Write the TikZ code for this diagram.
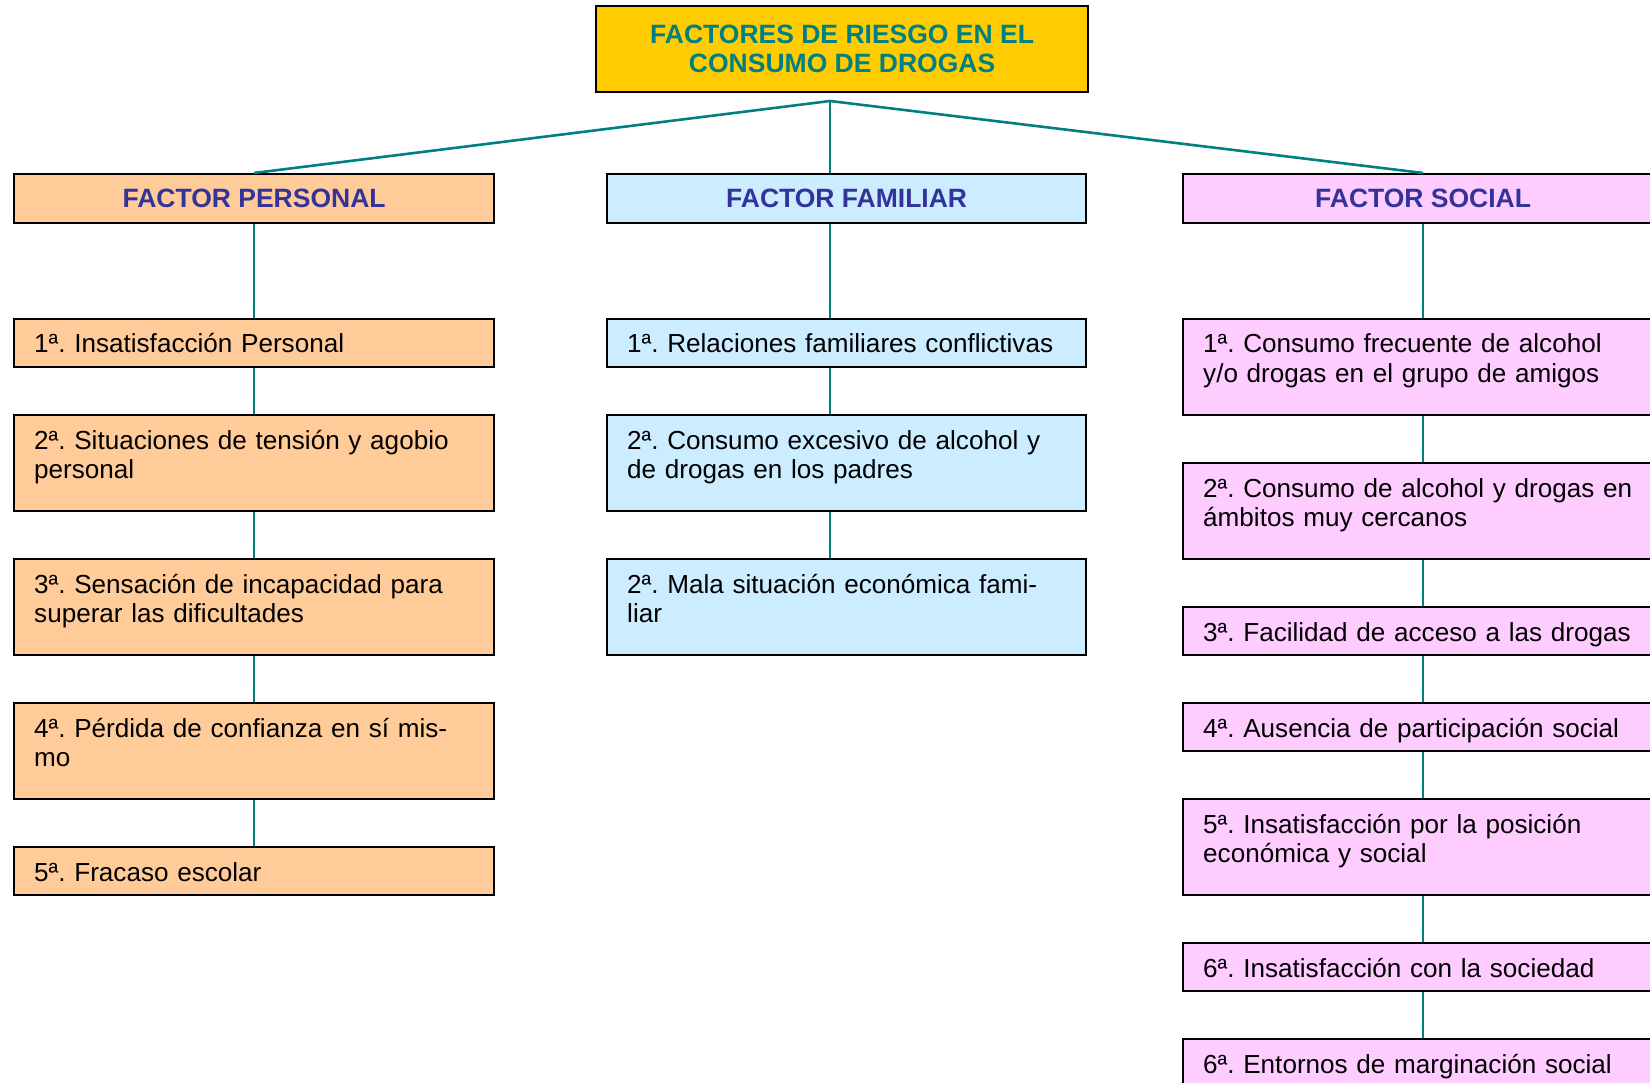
\documentclass[tikz,border=0pt]{standalone}
\usepackage{fontspec}
\setmainfont{Liberation Sans}
\frenchspacing
\definecolor{gold}{HTML}{FFCC00}
\definecolor{tealc}{HTML}{008080}
\definecolor{navyc}{HTML}{333399}
\definecolor{orangec}{HTML}{FFCC99}
\definecolor{bluec}{HTML}{CCECFF}
\definecolor{pinkc}{HTML}{FFCCFF}
\begin{document}
\begin{tikzpicture}[x=1pt,y=-1pt,
  box/.style={draw=black,line width=2.2pt,anchor=north west,inner sep=0pt,minimum width=480pt},
  one/.style={box,minimum height=48pt},
  two/.style={box,minimum height=96pt},
  head/.style={box,minimum height=49pt,font=\fontsize{26.5}{29.3}\selectfont\bfseries,text=navyc},
  txt/.style={anchor=base west,inner sep=0pt,text width=460pt,align=left,font=\fontsize{26.1}{29.3}\selectfont,xshift=21pt,yshift=-35pt},
  link/.style={draw=tealc,line width=2.6pt}]
\useasboundingbox (0,0) rectangle (1650,1083);
\clip (0,0) rectangle (1650,1083);

% title
\node[box,fill=gold,minimum width=492pt,minimum height=86pt,align=center,
  font=\fontsize{26.5}{29.3}\selectfont\bfseries,text=tealc] (title) at (595,5)
  {FACTORES DE RIESGO EN EL\\CONSUMO DE DROGAS};
\coordinate (apex) at (830,101);

% headers
\node[head,fill=orangec] (P) at (13,173) {FACTOR PERSONAL};
\node[head,fill=bluec,minimum width=479pt] (F) at (606,173) {FACTOR FAMILIAR};
\node[head,fill=pinkc] (S) at (1182,173) {FACTOR SOCIAL};

% personal
\node[one,fill=orangec] (p1) at (13,318) {};
\node[two,fill=orangec] (p2) at (13,414) {};
\node[two,fill=orangec] (p3) at (13,558) {};
\node[two,fill=orangec] (p4) at (13,702) {};
\node[one,fill=orangec] (p5) at (13,846) {};
\node[txt] (p1t) at (p1.north west) {1ª. Insatisfacción Personal};
\node[txt] (p2t) at (p2.north west) {2ª. Situaciones de tensión y agobio\\personal};
\node[txt] (p3t) at (p3.north west) {3ª. Sensación de incapacidad para\\superar las dificultades};
\node[txt] (p4t) at (p4.north west) {4ª. Pérdida de confianza en sí mis-\\mo};
\node[txt] (p5t) at (p5.north west) {5ª. Fracaso escolar};

% familiar
\node[one,fill=bluec,minimum width=479pt] (f1) at (606,318) {};
\node[two,fill=bluec,minimum width=479pt] (f2) at (606,414) {};
\node[two,fill=bluec,minimum width=479pt] (f3) at (606,558) {};
\node[txt] (f1t) at (f1.north west) {1ª. Relaciones familiares conflictivas};
\node[txt] (f2t) at (f2.north west) {2ª. Consumo excesivo de alcohol y\\de drogas en los padres};
\node[txt] (f3t) at (f3.north west) {2ª. Mala situación económica fami-\\liar};

% social
\node[two,fill=pinkc] (s1) at (1182,318) {};
\node[two,fill=pinkc] (s2) at (1182,462) {};
\node[one,fill=pinkc] (s3) at (1182,606) {};
\node[one,fill=pinkc] (s4) at (1182,702) {};
\node[two,fill=pinkc] (s5) at (1182,798) {};
\node[one,fill=pinkc] (s6) at (1182,942) {};
\node[two,fill=pinkc] (s7) at (1182,1038) {};
\node[txt] (s1t) at (s1.north west) {1ª. Consumo frecuente de alcohol\\y/o drogas en el grupo de amigos};
\node[txt] (s2t) at (s2.north west) {2ª. Consumo de alcohol y drogas en\\ámbitos muy cercanos};
\node[txt] (s3t) at (s3.north west) {3ª. Facilidad de acceso a las drogas};
\node[txt] (s4t) at (s4.north west) {4ª. Ausencia de participación social};
\node[txt] (s5t) at (s5.north west) {5ª. Insatisfacción por la posición\\económica y social};
\node[txt] (s6t) at (s6.north west) {6ª. Insatisfacción con la sociedad};
\node[txt] (s7t) at (s7.north west) {6ª. Entornos de marginación social};

% connectors
\draw[link] (P.north) -- (apex) -- (S.north);
\draw[link] (apex) -- (apex |- F.north);
\draw[link] (P.south) -- (p1.north);
\draw[link] (p1.south) -- (p2.north);
\draw[link] (p2.south) -- (p3.north);
\draw[link] (p3.south) -- (p4.north);
\draw[link] (p4.south) -- (p5.north);
\draw[link] (apex |- F.south) -- (apex |- f1.north);
\draw[link] (apex |- f1.south) -- (apex |- f2.north);
\draw[link] (apex |- f2.south) -- (apex |- f3.north);
\draw[link] (S.south) -- (s1.north);
\draw[link] (s1.south) -- (s2.north);
\draw[link] (s2.south) -- (s3.north);
\draw[link] (s3.south) -- (s4.north);
\draw[link] (s4.south) -- (s5.north);
\draw[link] (s5.south) -- (s6.north);
\draw[link] (s6.south) -- (s7.north);
\end{tikzpicture}
\end{document}
